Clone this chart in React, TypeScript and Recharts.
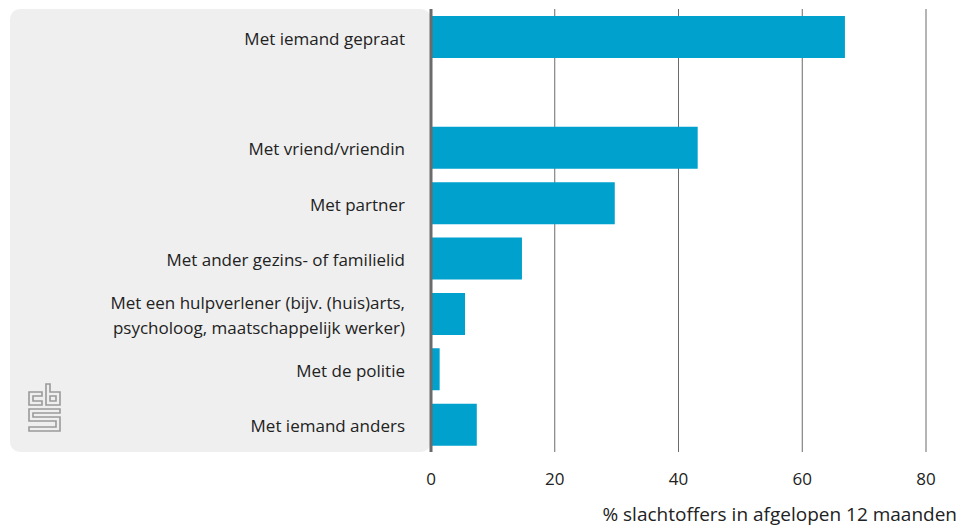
import { BarChart, Bar, XAxis, YAxis, CartesianGrid, ReferenceLine } from "recharts";

document.body.style.margin = "0";

const categories = [
  "Met iemand gepraat",
  "",
  "Met vriend/vriendin",
  "Met partner",
  "Met ander gezins- of familielid",
  "Met een hulpverlener (bijv. (huis)arts,|psycholoog, maatschappelijk werker)",
  "Met de politie",
  "Met iemand anders",
];
const values = [66.9, null, 43.1, 29.7, 14.7, 5.5, 1.4, 7.4];
const xTicks = [0, 20, 40, 60, 80];

const data = categories.map((c, i) => ({ key: c || "gap", label: c, value: values[i] }));

const FONT = "'Open Sans', sans-serif";
const TEXT = "#222";

function CatTick(props: any) {
  const { x, y, payload } = props;
  const item = data.find((d) => d.key === payload.value);
  if (!item || !item.label) return null;
  const lines = item.label.split("|");
  const lh = 25;
  const y0 = y + 1 - ((lines.length - 1) * lh) / 2;
  return (
    <text x={x - 18} y={y0} textAnchor="end" fill={TEXT} fontFamily={FONT} fontSize={17} dominantBaseline="central">
      {lines.map((l: string, i: number) => (
        <tspan key={i} x={x - 18} y={y0 + i * lh}>{l}</tspan>
      ))}
    </text>
  );
}

function CbsLogo() {
  const s = { fill: "none", stroke: "#9a9a9a", strokeWidth: 1.6 };
  return (
    <svg width="34" height="50" style={{ position: "absolute", left: 28, top: 383 }}>
      <path d="M1 9 H14 V13 H5 V18 H14 V22 H1 Z" {...s} />
      <path d="M18 1 H22 V9 H32 V22 H18 Z M22 13 V18 H28 V13 Z" {...s} />
      <path d="M1 26 H32 V30 H5 V34 H32 V48 H1 V44 H28 V38 H1 Z" {...s} />
    </svg>
  );
}

export default function App() {
  return (
    <div style={{ position: "relative", width: 967, height: 529, background: "#fff" }}>
      <div style={{ position: "absolute", left: 10, top: 9, width: 421, height: 443, background: "#efefef", borderRadius: 10 }} />
      <CbsLogo />
      <div style={{ position: "absolute", left: 0, top: 0 }}>
        <BarChart
          width={967}
          height={529}
          data={data}
          layout="vertical"
          margin={{ top: 9, right: 41, bottom: 0, left: 0 }}
        >
          <CartesianGrid horizontal={false} stroke="#6b6b6b" strokeWidth={1} />
          <XAxis
            type="number"
            domain={[0, 80]}
            ticks={xTicks}
            height={77}
            axisLine={false}
            tickLine={false}
            tickMargin={15}
            tick={{ fill: TEXT, fontFamily: FONT, fontSize: 17 }}
            label={(p: any) => (
              <text x={957} y={521} textAnchor="end" fill={TEXT} fontFamily={FONT} fontSize={19}>
                % slachtoffers in afgelopen 12 maanden
              </text>
            )}
          />
          <YAxis type="category" dataKey="key" width={431} axisLine={false} tickLine={false} tick={<CatTick />} interval={0} />
          <Bar dataKey="value" fill="#00a1cd" barSize={42} isAnimationActive={false} />
          <ReferenceLine x={0} stroke="#6b6b6b" strokeWidth={3} />
        </BarChart>
      </div>
    </div>
  );
}
